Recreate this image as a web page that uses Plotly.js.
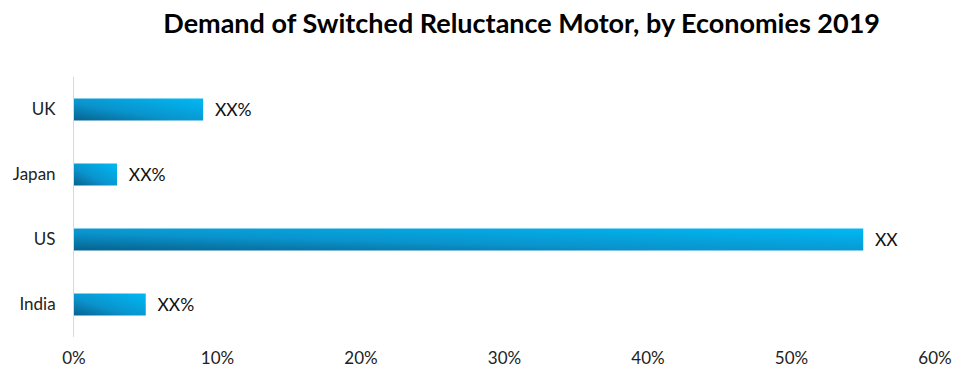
<!DOCTYPE html>
<html>
<head>
<meta charset="utf-8">
<script src="https://cdn.plot.ly/plotly-3.0.1.min.js"></script>
<style>html,body{margin:0;padding:0;background:#fff;}#chart{width:975px;height:386px;}</style>
</head>
<body>
<div id="chart"></div>
<script>
var categories = ["India", "US", "Japan", "UK"];
var shares = [0.05, 0.55, 0.03, 0.09];
var labels = ["XX%", "XX", "XX%", "XX%"];
var tickVals = [0, 0.1, 0.2, 0.3, 0.4, 0.5, 0.6];
var tickText = ["0%", "10%", "20%", "30%", "40%", "50%", "60%"];

var trace = {
  type: "bar",
  orientation: "h",
  y: categories,
  x: shares,
  text: labels.map(function(t){ return "\u2002" + t; }),
  textposition: "outside",
  constraintext: "none",
  cliponaxis: false,
  textfont: {family: "Lato, 'Open Sans', sans-serif", size: 17.5, color: "#111"},
  marker: {color: "#0a9ad3", line: {width: 0}},
  width: 0.34,
  hoverinfo: "none"
};

var layout = {
  width: 975, height: 386,
  margin: {l: 74, r: 40, t: 77, b: 49},
  paper_bgcolor: "#fff", plot_bgcolor: "#fff",
  showlegend: false,
  title: {
    text: "<b>Demand of Switched Reluctance Motor, by Economies 2019</b>",
    font: {family: "Lato, 'Open Sans', sans-serif", size: 27, color: "#000"},
    x: 0.535, xanchor: "center", y: 0.94, yanchor: "middle"
  },
  xaxis: {
    range: [0, 0.6], tickvals: tickVals, ticktext: tickText,
    showgrid: false, zeroline: false, showline: false, ticks: "",
    ticklabelstandoff: 9,
    tickfont: {family: "Lato, 'Open Sans', sans-serif", size: 17, color: "#222"}
  },
  yaxis: {
    range: [-0.5, 3.5], showgrid: false, zeroline: false,
    showline: true, linecolor: "#d9d9d9", linewidth: 1, ticks: "",
    ticklabelstandoff: 14,
    tickfont: {family: "Lato, 'Open Sans', sans-serif", size: 17, color: "#222"}
  }
};

Plotly.newPlot("chart", [trace], layout, {displayModeBar: false, staticPlot: true}).then(function(gd){
  var svg = gd.querySelector("svg.main-svg");
  var ns = "http://www.w3.org/2000/svg";
  var defs = svg.querySelector("defs") || svg.insertBefore(document.createElementNS(ns, "defs"), svg.firstChild);
  var g = document.createElementNS(ns, "linearGradient");
  g.setAttribute("id", "barGrad");
  g.setAttribute("x1", "0"); g.setAttribute("y1", "1");
  g.setAttribute("x2", "1"); g.setAttribute("y2", "0");
  [["0", "#06628e"], ["0.4", "#0a93cc"], ["1", "#00b9f4"]].forEach(function(s){
    var st = document.createElementNS(ns, "stop");
    st.setAttribute("offset", s[0]); st.setAttribute("stop-color", s[1]);
    g.appendChild(st);
  });
  defs.appendChild(g);
  gd.querySelectorAll(".bars .point path").forEach(function(p){
    p.style.fill = "url(#barGrad)";
  });
});
</script>
</body>
</html>
